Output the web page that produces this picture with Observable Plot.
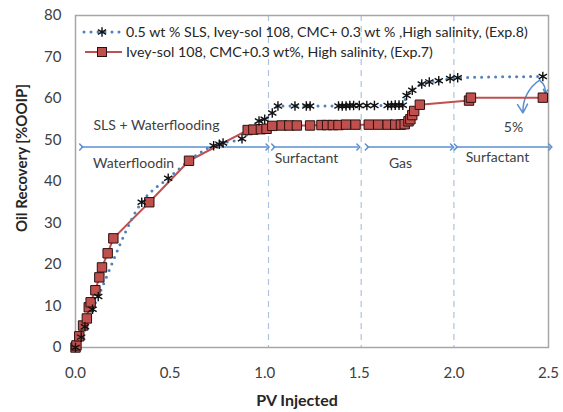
<!DOCTYPE html>
<html><head><meta charset="utf-8">
<script src="https://cdn.jsdelivr.net/npm/d3@7"></script>
<script src="https://cdn.jsdelivr.net/npm/@observablehq/plot@0.6"></script>
<style>body{margin:0;background:#fff;font-family:Lato,"Open Sans",sans-serif}</style>
</head><body><div id="chart"></div>
<script>
// Exp.8: 0.5 wt % SLS, Ivey-sol 108, CMC+0.3 wt %, High salinity
const exp8PV  = [0,0.03,0.05,0.09,0.12,0.35,0.49,0.73,0.76,0.78,0.88,0.97,1.0,1.04,1.07,1.16,1.22,1.24,1.39,1.41,1.43,1.45,1.47,1.5,1.54,1.58,1.65,1.67,1.69,1.71,1.73,1.75,1.78,1.83,1.87,1.92,1.98,2.02,2.47];
const exp8Rec = [0,2.5,5,9.2,12.3,35,40.8,48.6,49,49.3,50.3,54.6,55,56.5,58.2,58.2,58.2,58.2,58.2,58.2,58.2,58.3,58.3,58.3,58.3,58.3,58.3,58.3,58.4,58.4,58.4,60.7,62,63.5,64,64.3,64.8,65,65.3];
// Exp.7: Ivey-sol 108, CMC+0.3 wt%, High salinity
const exp7PV  = [0,0.005,0.02,0.04,0.06,0.07,0.08,0.105,0.126,0.14,0.17,0.2,0.39,0.6,0.91,0.94,0.98,1.01,1.04,1.09,1.13,1.17,1.24,1.3,1.33,1.36,1.39,1.43,1.48,1.55,1.6,1.65,1.69,1.72,1.74,1.76,1.77,1.78,1.79,1.82,2.08,2.09,2.47];
const exp7Rec = [0,0.5,2.7,5.3,7.0,9.7,10.9,13.8,16.9,19.3,22.7,26.3,35.0,45.0,52.4,52.5,52.6,52.7,53.4,53.5,53.5,53.5,53.5,53.6,53.6,53.6,53.6,53.7,53.7,53.7,53.7,53.7,53.7,53.7,53.8,54.5,55,56,57,58.5,59.5,60.2,60.2];

const xTicks = [0,0.5,1.0,1.5,2.0,2.5];
const yTicks = [0,10,20,30,40,50,60,70,80];
const phaseBounds = [1.02, 1.51, 2.0];
const phaseStart = [0.03, 1.045, 1.54, 2.01];
const phaseEnd   = [1.015, 1.495, 1.99, 2.51];
const phaseLevel = 48.3;
const labelText = ["SLS + Waterflooding","Waterfloodin","Surfactant","Gas","Surfactant","5%"];
const labelX    = [0.428,0.307,1.221,1.718,2.23,2.315];
const labelY    = [53.5,44.3,45.5,44.3,45.8,53.0];
const legendNames = ["0.5 wt % SLS, Ivey-sol 108, CMC+ 0.3 wt % ,High salinity, (Exp.8)","Ivey-sol 108, CMC+0.3 wt%, High salinity, (Exp.7)"];

const exp8 = exp8PV.map((x,i)=>({x, y: exp8Rec[i]}));
const exp7 = exp7PV.map((x,i)=>({x, y: exp7Rec[i]}));
const arrows = phaseStart.map((x1,i)=>({x1, x2: phaseEnd[i], y: phaseLevel}));
const labels = labelText.map((t,i)=>({t, x: labelX[i], y: labelY[i]}));

const blue = "#4f81bd", red = "#c0504d", arrowC = "#5b8fd0";

const chart = Plot.plot({
  width: 563, height: 412,
  marginLeft: 75, marginRight: 15, marginTop: 15, marginBottom: 65,
  style: {fontFamily: "Lato, sans-serif", fontSize: "15px", color: "#404040", background: "#fff"},
  x: {domain: [0,2.5], ticks: xTicks, tickFormat: d3.format(".1f"), tickSize: 0, tickPadding: 20, label: null},
  y: {domain: [0,80], ticks: yTicks, tickSize: 0, tickPadding: 14, label: null},
  marks: [
    Plot.ruleX(phaseBounds, {stroke: "#aec3e0", strokeDasharray: "6,5", strokeWidth: 1.2}),
    Plot.frame({stroke: "#a6a6a6", strokeWidth: 1.5}),
    Plot.link(arrows, {x1: "x1", x2: "x2", y1: "y", y2: "y", stroke: arrowC, strokeWidth: 1.5, markerStart: "arrow", markerEnd: "arrow"}),
    Plot.text(labels, {x: "x", y: "y", text: "t", fontSize: 14, fill: "#404040"}),
    Plot.arrow([{x1: 2.455, y1: 64.5, x2: 2.365, y2: 56.5}], {x1:"x1",y1:"y1",x2:"x2",y2:"y2", bend: -30, stroke: arrowC, strokeWidth: 1.5, headLength: 10}),
    Plot.arrow([{x1: 2.455, y1: 64.3, x2: 2.482, y2: 61.2}], {x1:"x1",y1:"y1",x2:"x2",y2:"y2", bend: 30, stroke: arrowC, strokeWidth: 1.5, headLength: 8}),
    Plot.line(exp7, {x: "x", y: "y", stroke: red, strokeWidth: 2}),
    Plot.line(exp8, {x: "x", y: "y", stroke: blue, strokeWidth: 3, strokeDasharray: "0,7", strokeLinecap: "round", curve: "monotone-x"}),
    Plot.dot(exp7, {x: "x", y: "y", symbol: "square", r: 5.3, fill: red, stroke: "#2a1010", strokeWidth: 1}),
    Plot.dot(exp8, {x: "x", y: "y", symbol: "asterisk", r: 4.5, stroke: "#111", strokeWidth: 1.4})
  ]
});

// axis labels & legend
const svg = d3.select(chart);
svg.append("text").attr("x", 297).attr("y", 406).attr("text-anchor","middle")
  .attr("font-weight","bold").attr("font-size",16).attr("fill","#262626").text("PV Injected");
svg.append("text").attr("transform","translate(27,158) rotate(-90)").attr("text-anchor","middle")
  .attr("font-weight","bold").attr("font-size",15).attr("fill","#262626").text("Oil Recovery [%OOIP]");

const lg = svg.append("g").attr("font-size", 14.2).attr("fill", "#262626").attr("text-anchor", "start");
// row 1
lg.append("line").attr("x1",84).attr("x2",120).attr("y1",32).attr("y2",32)
  .attr("stroke",blue).attr("stroke-width",3).attr("stroke-dasharray","0,7").attr("stroke-linecap","round");
lg.append("path").attr("transform","translate(102,32)").attr("d", d3.symbol(d3.symbolAsterisk, 64)())
  .attr("stroke","#111").attr("stroke-width",1.4).attr("fill","none");
lg.append("text").attr("x",126).attr("y",32).attr("dy","0.35em").text(legendNames[0]);
// row 2
lg.append("line").attr("x1",85).attr("x2",122).attr("y1",52).attr("y2",52).attr("stroke",red).attr("stroke-width",2);
lg.append("rect").attr("x",97.5).attr("y",47.5).attr("width",9).attr("height",9).attr("fill",red).attr("stroke","#2a1010");
lg.append("text").attr("x",126).attr("y",52).attr("dy","0.35em").text(legendNames[1]);

document.getElementById("chart").appendChild(chart);
</script>
</body></html>
